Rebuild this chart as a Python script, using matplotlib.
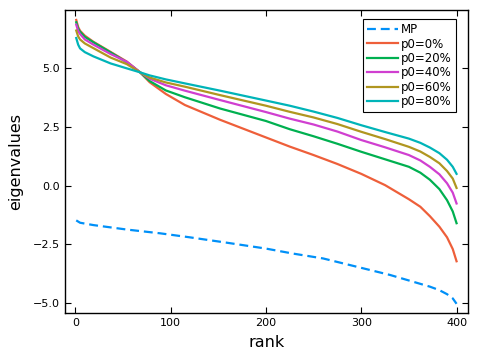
import matplotlib
matplotlib.use("Agg")
import matplotlib.pyplot as plt

# values (rank -> eigenvalue)
mp_rank = [1, 5, 19, 54, 89, 120, 159, 200, 228, 260, 298, 330, 351, 372, 382, 390, 396, 400]
mp_vals = [-1.48, -1.58, -1.68, -1.87, -2.03, -2.2, -2.43, -2.68, -2.89, -3.1, -3.48, -3.8,
           -4.05, -4.3, -4.45, -4.62, -4.8, -5.03]

ranks = [1, 3, 5, 10, 19, 37, 54, 68, 78, 95, 115, 152, 200, 225, 250, 275, 300, 325, 350,
         362, 372, 382, 390, 396, 400]
p0_0 = [7.05, 6.75, 6.59, 6.38, 6.12, 5.69, 5.28, 4.82, 4.4, 3.9, 3.43, 2.8, 2.05, 1.66,
        1.3, 0.92, 0.5, 0.02, -0.58, -0.9, -1.3, -1.75, -2.2, -2.7, -3.22]
p0_20 = [6.95, 6.68, 6.55, 6.33, 6.1, 5.67, 5.25, 4.82, 4.45, 4.05, 3.76, 3.28, 2.75, 2.4,
         2.1, 1.78, 1.44, 1.12, 0.8, 0.55, 0.25, -0.15, -0.62, -1.1, -1.6]
p0_40 = [6.85, 6.58, 6.45, 6.22, 6.0, 5.6, 5.27, 4.82, 4.55, 4.27, 4.04, 3.64, 3.13, 2.85,
         2.6, 2.3, 1.94, 1.63, 1.3, 1.07, 0.8, 0.48, 0.1, -0.3, -0.76]
p0_60 = [6.6, 6.35, 6.22, 6.05, 5.85, 5.45, 5.17, 4.82, 4.6, 4.39, 4.21, 3.85, 3.4, 3.14,
         2.9, 2.62, 2.29, 1.98, 1.65, 1.45, 1.22, 0.95, 0.62, 0.3, -0.1]
p0_80 = [6.28, 6.0, 5.84, 5.68, 5.5, 5.2, 4.99, 4.82, 4.69, 4.52, 4.35, 4.04, 3.62, 3.4,
         3.15, 2.88, 2.57, 2.28, 2.0, 1.82, 1.62, 1.38, 1.1, 0.8, 0.5]

labels = ["p0=0%", "p0=20%", "p0=40%", "p0=60%", "p0=80%"]
colors = ["#EE5F3A", "#00B050", "#D03FD0", "#B09620", "#00B4B8"]

fig = plt.figure(figsize=(4.8, 3.6), dpi=100)
ax = fig.add_axes([0.135, 0.13, 0.84, 0.842])

ax.plot(mp_rank, mp_vals, color="#0090F8", lw=1.6, ls=(0, (4, 2.2)), label="MP")
for vals, lab, c in zip([p0_0, p0_20, p0_40, p0_60, p0_80], labels, colors):
    ax.plot(ranks, vals, color=c, lw=1.6, label=lab)

ax.set_xlim(-11, 412)
ax.set_ylim(-5.43, 7.47)
ax.set_xticks([0, 100, 200, 300, 400])
ax.set_yticks([-5.0, -2.5, 0.0, 2.5, 5.0])
ax.tick_params(direction="in", top=True, right=True, length=4, labelsize=8)
for s in ax.spines.values():
    s.set_linewidth(1)

ax.set_xlabel("rank", fontsize=11.5, labelpad=5)
ax.set_ylabel("eigenvalues", fontsize=11.5, labelpad=7)

leg = ax.legend(loc="upper right", bbox_to_anchor=(0.985, 0.99), fontsize=8.5,
                fancybox=False, edgecolor="black", framealpha=1,
                handlelength=2.6, labelspacing=0.12, borderpad=0.35, handletextpad=0.3)
leg.get_frame().set_linewidth(0.8)

fig.savefig("out.png")
